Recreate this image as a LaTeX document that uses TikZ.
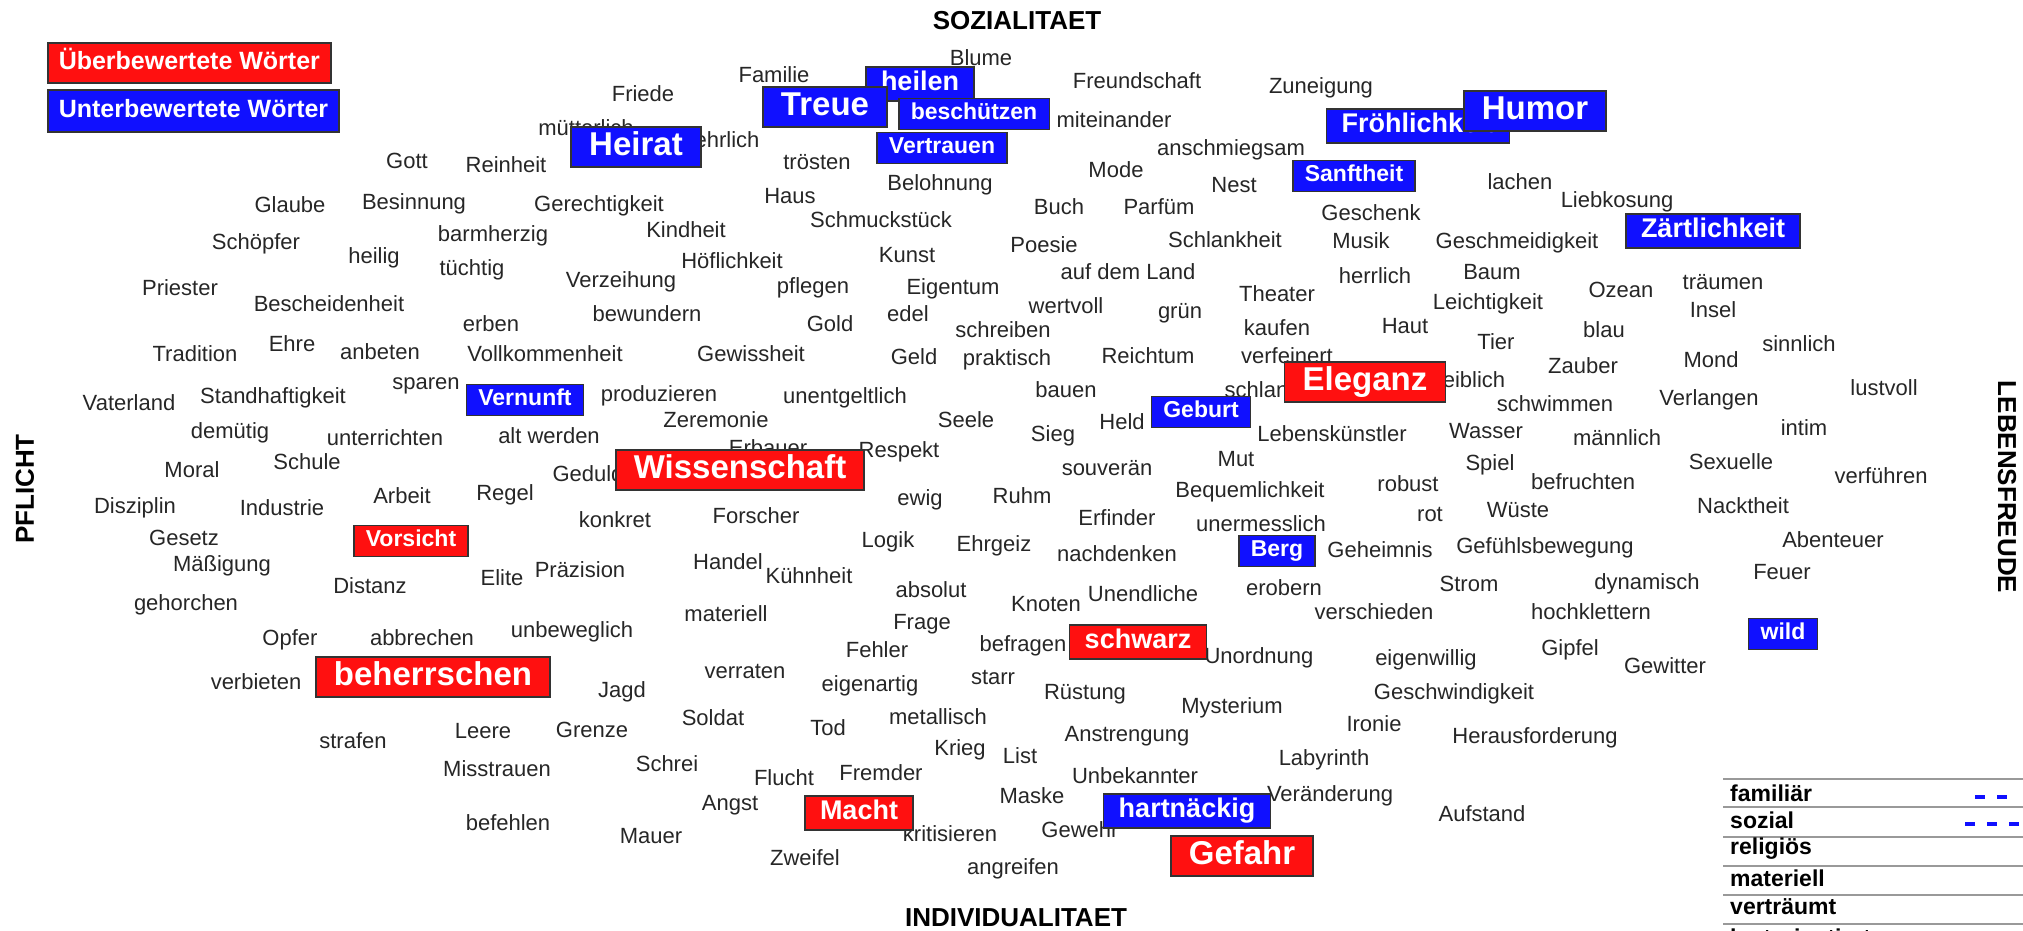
\documentclass[tikz,border=0pt]{standalone}
\usepackage{fontspec}
\setmainfont{Liberation Sans}

\definecolor{overred}{RGB}{255,16,16}
\definecolor{underblue}{RGB}{16,16,255}

\tikzset{
  word/.style={font=\fontsize{22}{24}\selectfont,text=black!85,inner sep=0pt,text height=16pt,text depth=5pt,yshift=-2.5pt},
  tag/.style={draw=black!80,line width=1.5pt,text=white,inner ysep=0pt},
  over/.style={tag,fill=overred},
  under/.style={tag,fill=underblue},
  big/.style={font=\bfseries\fontsize{33}{35}\selectfont,minimum height=40pt,inner xsep=18pt,text height=24pt,text depth=7pt},
  mid/.style={font=\bfseries\fontsize{27}{29}\selectfont,minimum height=34pt,inner xsep=15pt,text height=19.5pt,text depth=5.7pt},
  small/.style={font=\bfseries\fontsize{23}{25}\selectfont,minimum height=31pt,inner xsep=12pt,text height=16.5pt,text depth=4.8pt},
  axis/.style={font=\bfseries\fontsize{26}{28}\selectfont,inner sep=0pt},
  legrow/.style={font=\bfseries\fontsize{23}{25}\selectfont,anchor=west,inner sep=0pt},
}

\begin{document}
\begin{tikzpicture}[x=1pt,y=-1pt]
  \useasboundingbox (0,0) rectangle (2023,930);
  \clip (0,0) rectangle (2023,930);

  % axes
  \node[axis] (sozial) at (1017,21) {SOZIALITAET};
  \node[axis] (indiv) at (1016,918) {INDIVIDUALITAET};
  \node[axis,rotate=90] (pflicht) at (25,489) {PFLICHT};
  \node[axis,rotate=-90] (freude) at (2007,487) {LEBENSFREUDE};

  % plain words
  \foreach \x/\y/\w [count=\i] in {
    407/160/Gott, 506/164/Reinheit, 290/204/Glaube, 414/201/Besinnung, 256/241/Schöpfer,
    374/255/heilig, 493/233/barmherzig, 472/267/tüchtig, 180/287/Priester, 329/303/Bescheidenheit,
    643/93/Friede, 774/74/Familie, 586/127/mütterlich, 727/139/ehrlich, 981/57/Blume,
    817/161/trösten, 940/182/Belohnung, 599/203/Gerechtigkeit, 790/195/Haus, 881/219/Schmuckstück,
    686/229/Kindheit, 907/254/Kunst, 732/260/Höflichkeit, 621/279/Verzeihung, 813/285/pflegen,
    953/286/Eigentum, 647/313/bewundern, 1044/244/Poesie, 1137/80/Freundschaft, 1321/85/Zuneigung,
    1114/119/miteinander, 1231/147/anschmiegsam, 1116/169/Mode, 1234/184/Nest, 1059/206/Buch,
    1159/206/Parfüm, 1371/212/Geschenk, 1225/239/Schlankheit, 1361/240/Musik, 1517/240/Geschmeidigkeit,
    1128/271/auf dem Land, 1277/293/Theater, 1375/275/herrlich, 1492/271/Baum, 1066/305/wertvoll,
    1180/310/grün, 1488/301/Leichtigkeit, 1520/181/lachen, 1617/199/Liebkosung, 1621/289/Ozean,
    1723/281/träumen, 1713/309/Insel, 195/353/Tradition, 292/343/Ehre, 380/351/anbeten,
    491/323/erben, 545/353/Vollkommenheit, 426/381/sparen, 129/402/Vaterland, 273/395/Standhaftigkeit,
    230/430/demütig, 385/437/unterrichten, 549/435/alt werden, 192/469/Moral, 307/461/Schule,
    135/505/Disziplin, 282/507/Industrie, 402/495/Arbeit, 505/492/Regel, 184/537/Gesetz,
    222/563/Mäßigung, 370/585/Distanz, 502/577/Elite, 186/602/gehorchen, 830/323/Gold,
    908/313/edel, 1003/329/schreiben, 751/353/Gewissheit, 914/356/Geld, 1007/357/praktisch,
    659/393/produzieren, 845/395/unentgeltlich, 716/419/Zeremonie, 966/419/Seele, 768/447/Erbauer,
    899/449/Respekt, 588/473/Geduld, 920/497/ewig, 1022/495/Ruhm, 615/519/konkret,
    756/515/Forscher, 888/539/Logik, 994/543/Ehrgeiz, 580/569/Präzision, 728/561/Handel,
    809/575/Kühnheit, 931/589/absolut, 726/613/materiell, 922/621/Frage, 572/629/unbeweglich,
    1277/327/kaufen, 1405/325/Haut, 1496/341/Tier, 1148/355/Reichtum, 1287/355/verfeinert,
    1466/379/weiblich, 1066/389/bauen, 1262/389/schlank, 1122/421/Held, 1053/433/Sieg,
    1332/433/Lebenskünstler, 1486/430/Wasser, 1555/403/schwimmen, 1236/458/Mut, 1107/467/souverän,
    1490/462/Spiel, 1408/483/robust, 1250/489/Bequemlichkeit, 1430/513/rot, 1518/509/Wüste,
    1117/517/Erfinder, 1261/523/unermesslich, 1380/549/Geheimnis, 1545/545/Gefühlsbewegung, 1117/553/nachdenken,
    1469/583/Strom, 1284/587/erobern, 1143/593/Unendliche, 1046/603/Knoten, 1374/611/verschieden,
    1604/329/blau, 1799/343/sinnlich, 1711/359/Mond, 1583/365/Zauber, 1884/387/lustvoll,
    1709/397/Verlangen, 1804/427/intim, 1617/437/männlich, 1731/461/Sexuelle, 1583/481/befruchten,
    1881/475/verführen, 1743/505/Nacktheit, 1833/539/Abenteuer, 1782/571/Feuer, 1647/581/dynamisch,
    1591/611/hochklettern, 290/637/Opfer, 422/637/abbrechen, 256/681/verbieten, 353/740/strafen,
    483/730/Leere, 497/768/Misstrauen, 508/822/befehlen, 622/689/Jagd, 745/670/verraten,
    877/649/Fehler, 1023/643/befragen, 870/683/eigenartig, 993/676/starr, 592/729/Grenze,
    713/717/Soldat, 828/727/Tod, 938/716/metallisch, 960/747/Krieg, 1020/755/List,
    667/763/Schrei, 784/777/Flucht, 881/772/Fremder, 730/802/Angst, 950/833/kritisieren,
    651/835/Mauer, 805/857/Zweifel, 1013/866/angreifen, 1259/655/Unordnung, 1426/657/eigenwillig,
    1085/691/Rüstung, 1454/691/Geschwindigkeit, 1232/705/Mysterium, 1374/723/Ironie, 1127/733/Anstrengung,
    1535/735/Herausforderung, 1324/757/Labyrinth, 1135/775/Unbekannter, 1032/795/Maske, 1330/793/Veränderung,
    1482/813/Aufstand, 1080/829/Gewehr, 1570/647/Gipfel, 1665/665/Gewitter}
    \node[word,name=w\i] at (\x,\y) {\w};

  % overrated / underrated words
  \node[under,mid] (heilen) at (920,84) {heilen};
  \node[under,big] (treue) at (825,107) {Treue};
  \node[under,small] (beschuetzen) at (974,114) {beschützen};
  \node[under,small] (vertrauen) at (942,148) {Vertrauen};
  \node[under,big] (heirat) at (636,147) {Heirat};
  \node[under,small] (sanftheit) at (1354,176) {Sanftheit};
  \node[under,mid] (froehlich) at (1418,126) {Fröhlichkeit};
  \node[under,big] (humor) at (1535,111) {Humor};
  \node[under,mid] (zaertlich) at (1713,231) {Zärtlichkeit};
  \node[under,small] (vernunft) at (525,400) {Vernunft};
  \node[over,big] (wissen) at (740,470) {Wissenschaft};
  \node[over,big] (eleganz) at (1365,382) {Eleganz};
  \node[under,small] (geburt) at (1201,412) {Geburt};
  \node[under,small] (berg) at (1277,551) {Berg};
  \node[over,small] (vorsicht) at (411,541) {Vorsicht};
  \node[under,small] (wild) at (1783,634) {wild};
  \node[over,mid] (schwarz) at (1138,642) {schwarz};
  \node[over,big] (beherr) at (433,677) {beherrschen};
  \node[over,mid] (macht) at (859,813) {Macht};
  \node[under,mid] (hartnaeckig) at (1187,811) {hartnäckig};
  \node[over,big] (gefahr) at (1242,856) {Gefahr};

  % legend
  \node[over,font=\bfseries\fontsize{25}{27}\selectfont,minimum height=40pt,inner xsep=11pt,
        text height=18pt,text depth=5pt,anchor=west] (legover) at (47,63) {Überbewertete Wörter};
  \node[under,font=\bfseries\fontsize{25}{27}\selectfont,minimum height=42pt,inner xsep=11pt,
        text height=18pt,text depth=5pt,anchor=west] (legunder) at (47,111) {Unterbewertete Wörter};

  \foreach \y in {779,807,837,866,895,924}
    \draw[black!40,line width=2pt] (1723,\y) -- (2023,\y);
  \foreach \y/\w [count=\i] in {793/familiär, 820/sozial, 849/religiös, 878/materiell,
                                907/verträumt, 937/lustorientiert}
    \node[legrow,name=row\i] at (1730,\y) {\w};
  \draw[underblue,line width=4pt,dash pattern=on 10pt off 12pt] (1975,797) -- (2007,797);
  \draw[underblue,line width=4pt,dash pattern=on 10pt off 12pt] (1965,824) -- (2019,824);
\end{tikzpicture}
\end{document}
